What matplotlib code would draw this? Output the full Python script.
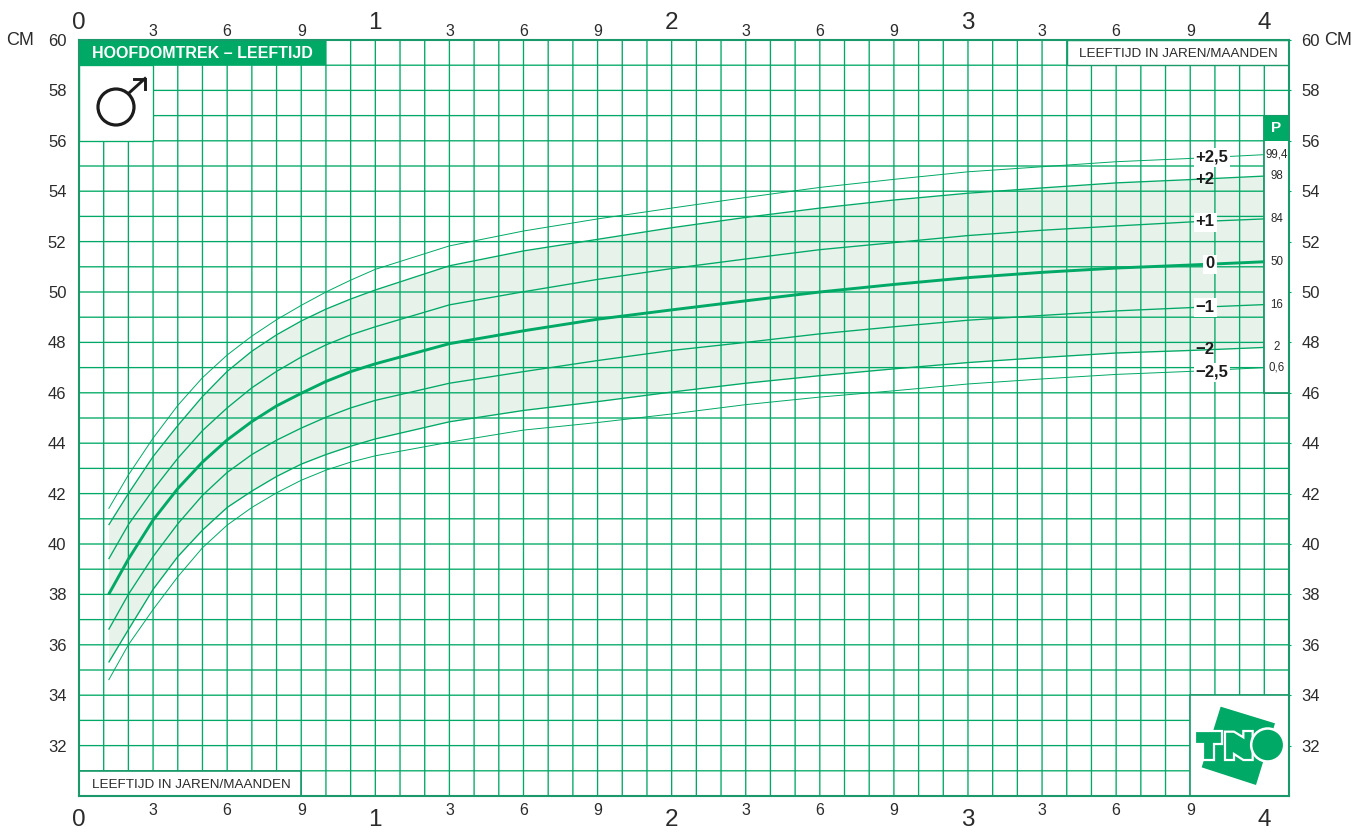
import matplotlib
matplotlib.use('Agg')
import matplotlib.pyplot as plt
from matplotlib.patches import Rectangle, Polygon, Ellipse

plt.rcParams['font.family'] = ['Liberation Sans', 'DejaVu Sans']

# age in months, head circumference in cm
months = [1.2, 2, 3, 4, 5, 6, 7, 8, 9, 10, 11, 12, 15, 18, 21, 24, 27, 30, 33, 36, 39, 42, 45, 48]
sd_plus25 = [41.4, 42.74, 44.2, 45.5, 46.6, 47.5, 48.25, 48.9, 49.47, 50.0, 50.47, 50.9, 51.83, 52.42, 52.9, 53.33, 53.75, 54.15, 54.47, 54.77, 54.97, 55.17, 55.3, 55.45]
sd_plus2 = [40.75, 42.0, 43.47, 44.7, 45.85, 46.85, 47.65, 48.3, 48.85, 49.32, 49.72, 50.08, 51.04, 51.63, 52.09, 52.55, 52.96, 53.33, 53.65, 53.92, 54.13, 54.33, 54.46, 54.6]
sd_plus1 = [39.4, 40.77, 42.15, 43.4, 44.5, 45.4, 46.2, 46.85, 47.42, 47.9, 48.3, 48.62, 49.49, 50.01, 50.5, 50.93, 51.31, 51.68, 51.96, 52.24, 52.45, 52.62, 52.78, 52.9]
sd_zero = [38.0, 39.4, 40.95, 42.2, 43.25, 44.13, 44.86, 45.48, 45.98, 46.45, 46.84, 47.15, 47.95, 48.46, 48.92, 49.29, 49.65, 50.0, 50.3, 50.57, 50.78, 50.95, 51.07, 51.2]
sd_min1 = [36.6, 38.0, 39.5, 40.8, 41.93, 42.84, 43.55, 44.12, 44.6, 45.03, 45.4, 45.7, 46.38, 46.84, 47.28, 47.68, 48.0, 48.34, 48.62, 48.88, 49.07, 49.25, 49.38, 49.5]
sd_min2 = [35.3, 36.6, 38.2, 39.5, 40.55, 41.45, 42.1, 42.68, 43.17, 43.55, 43.88, 44.17, 44.85, 45.3, 45.65, 46.03, 46.38, 46.68, 46.95, 47.2, 47.4, 47.58, 47.68, 47.8]
sd_min25 = [34.6, 36.0, 37.4, 38.7, 39.85, 40.75, 41.45, 42.03, 42.53, 42.93, 43.25, 43.5, 44.04, 44.52, 44.82, 45.16, 45.53, 45.83, 46.08, 46.35, 46.55, 46.73, 46.85, 47.0]

year_pos = [0, 12, 24, 36, 48]
year_labels = ['0', '1', '2', '3', '4']
month_pos = [3, 6, 9, 15, 18, 21, 27, 30, 33, 39, 42, 45]
month_labels = ['3', '6', '9'] * 4
cm_ticks = list(range(32, 62, 2))

sd_labels = ['+2,5', '+2', '+1', '0', '\u22121', '\u22122', '\u22122,5']
pct_labels = ['99,4', '98', '84', '50', '16', '2', '0,6']

GREEN = '#00a965'
DARK = '#1a9a6a'
FILL = '#e6f2ea'
TXT = '#2b2b2b'

W, H = 1361, 833
fig = plt.figure(figsize=(W / 100, H / 100), dpi=100)
ax = fig.add_axes([79 / W, 1 - 796 / H, (1289 - 79) / W, (796 - 40) / H])
ax.set_xlim(0, 49)
ax.set_ylim(30, 60)


# pixel position in the picture -> axes data, only for the furniture
def X(px):
    return (px - 79) / (1210 / 49)


def Y(py):
    return 60 - (py - 40) / 25.2


# grid, one line per month and per cm
ax.vlines(range(1, 49), 30, 60, color=GREEN, lw=0.95, zorder=2, snap=False)
ax.hlines(range(31, 60), 0, 49, color=GREEN, lw=0.95, zorder=2, snap=False)

ax.fill_between(months, sd_min2, sd_plus2, color=FILL, lw=0, zorder=1)

# white panels over the grid
ax.add_patch(Rectangle((0, 56), 3, 3, fc='white', ec=GREEN, lw=0.95, zorder=3))
ax.add_patch(Rectangle((0, 59), 10, 1, fc=GREEN, ec='none', zorder=3))
ax.add_patch(Rectangle((40, 59), 9, 1, fc='white', ec=DARK, lw=1, zorder=3))
ax.add_patch(Rectangle((0, 30), 9, 1, fc='white', ec=DARK, lw=1.2, zorder=3))
ax.add_patch(Rectangle((45, 30), 4, 4, fc='white', ec=DARK, lw=1.2, zorder=3))
ax.add_patch(Rectangle((48, 46), 1, 11, fc='white', ec=DARK, lw=1.3, zorder=3))
ax.add_patch(Rectangle((48, 56), 1, 1, fc=GREEN, ec='none', zorder=3))

# curves
for vals, lw in [(sd_plus25, 0.7), (sd_plus2, 0.95), (sd_plus1, 0.95), (sd_zero, 2.1),
                 (sd_min1, 0.95), (sd_min2, 0.95), (sd_min25, 0.7)]:
    ax.plot(months, vals, color=GREEN, lw=lw, zorder=4, solid_capstyle='butt')

# labels at the end of the curves
label_x = [1212, 1205, 1205, 1210, 1205, 1205, 1212]
label_y = [157, 180, 222, 264, 307, 350, 372]
has_box = [True, False, True, True, True, False, True]
for s, px, py, b in zip(sd_labels, label_x, label_y, has_box):
    bbox = dict(fc='white', ec='none', pad=1.5) if b else None
    ax.text(X(px), Y(py), s, ha='center', va='center', fontsize=12, fontweight='bold',
            color='#1c1c1c', zorder=6, bbox=bbox)
for s, vals in zip(pct_labels, [sd_plus25, sd_plus2, sd_plus1, sd_zero, sd_min1, sd_min2, sd_min25]):
    ax.text(48.5, vals[-1], s, ha='center', va='center', fontsize=8.3, color=TXT, zorder=6)

ax.text(48.47, 56.5, 'P', ha='center', va='center', fontsize=11, fontweight='bold', color='white', zorder=6)
ax.text(X(92), 59.45, 'HOOFDOMTREK \u2013 LEEFTIJD', ha='left', va='center', fontsize=11.5,
        fontweight='bold', color='white', zorder=6)
ax.text(X(1079), 59.45, 'LEEFTIJD IN JAREN/MAANDEN', ha='left', va='center', fontsize=9.7, color=TXT, zorder=6)
ax.text(X(92), 30.45, 'LEEFTIJD IN JAREN/MAANDEN', ha='left', va='center', fontsize=9.7, color=TXT, zorder=6)

# male sign
ax.add_patch(Ellipse((X(116), Y(107)), 36 / 24.69, 36 / 25.2, fc='none', ec='#1c1c1c', lw=2.3, zorder=6))
ax.plot([X(129), X(145)], [Y(93), Y(78.5)], color='#1c1c1c', lw=2.1, zorder=6)
ax.plot([X(134), X(145), X(145)], [Y(78.5), Y(78.5), Y(89)], color='#1c1c1c', lw=2.1, zorder=6,
        solid_joinstyle='miter')


# TNO logo, outline
def logo(pts):
    return [(X(1160 + a / 3), Y(680 + b / 3)) for a, b in pts]


ax.add_patch(Polygon(logo([(182, 80), (345, 130), (288, 315), (125, 262)]), fc=GREEN, ec='none', zorder=5))
letter_t = [(105, 153), (185, 153), (185, 193), (162, 193), (162, 240), (128, 240), (128, 193), (105, 193)]
letter_n = [(195, 155), (222, 155), (250, 172), (250, 153), (278, 153), (278, 240), (250, 240),
            (222, 222), (222, 240), (195, 240)]
ax.add_patch(Polygon(logo(letter_t), fc=GREEN, ec='white', lw=1.6, zorder=6))
ax.add_patch(Polygon(logo(letter_n), fc=GREEN, ec='white', lw=1.6, zorder=6))
ax.add_patch(Ellipse((X(1160 + 323 / 3), Y(680 + 195 / 3)), 33 / 24.69, 33 / 25.2, fc=GREEN, ec='white', lw=1.8, zorder=7))

# axes and tick labels, the top axis needs its own pads
ax.set_xticks(year_pos, year_labels)
ax.set_xticks(month_pos, month_labels, minor=True)
ax.set_yticks(cm_ticks)
ax.tick_params(axis='x', which='both', length=0, top=False, bottom=False, colors=TXT)
ax.tick_params(axis='x', which='major', labelsize=17.5, pad=9)
ax.tick_params(axis='x', which='minor', labelsize=11.5, pad=4.7)
ax.tick_params(axis='y', left=False, right=True, length=1.5, width=0.8, color=GREEN, labelleft=True,
               labelright=True, labelsize=12, pad=7.5, labelcolor=TXT)

top = ax.secondary_xaxis('top')
top.set_xticks(year_pos, year_labels)
top.set_xticks(month_pos, month_labels, minor=True)
top.tick_params(axis='x', which='both', length=0, colors=TXT)
top.tick_params(axis='x', which='major', labelsize=17.5, pad=4)
top.tick_params(axis='x', which='minor', labelsize=11.5, pad=1)
top.spines['top'].set_visible(False)

for s in ax.spines.values():
    s.set_color(DARK)
    s.set_linewidth(1.5)
    s.set_zorder(8)

fig.text(20 / W, 1 - 40.5 / H, 'CM', ha='center', va='center', fontsize=13, color=TXT)
fig.text(1338 / W, 1 - 40.5 / H, 'CM', ha='center', va='center', fontsize=13, color=TXT)

fig.savefig('out.png', dpi=100)
